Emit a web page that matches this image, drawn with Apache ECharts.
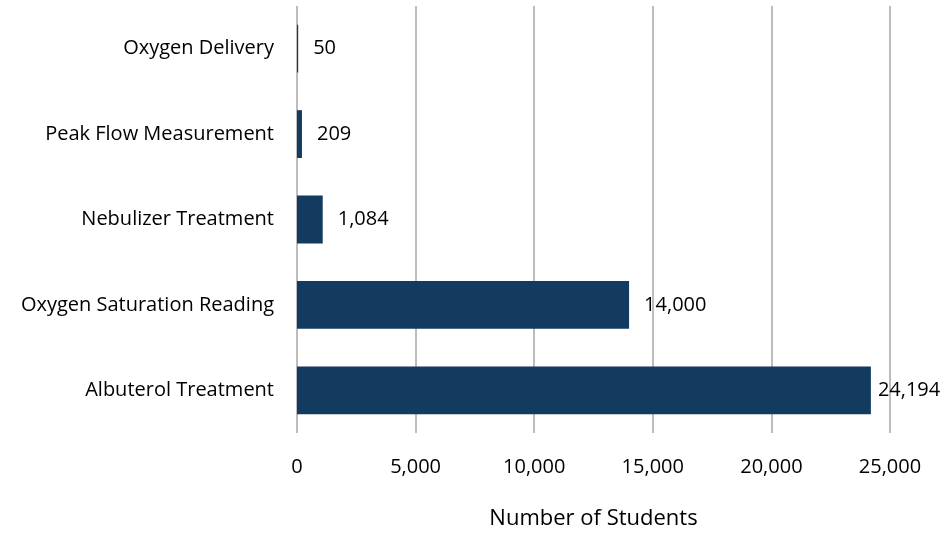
<!DOCTYPE html>
<html><head><meta charset="utf-8">
<script src="https://cdn.jsdelivr.net/npm/echarts@6/dist/echarts.min.js"></script>
<style>html,body{margin:0;padding:0;background:#fff}#c{width:948px;height:533px}</style>
</head><body><div id="c"></div>
<script>
var categories = ["Albuterol Treatment", "Oxygen Saturation Reading", "Nebulizer Treatment", "Peak Flow Measurement", "Oxygen Delivery"];
var values = [24194, 14000, 1084, 209, 50];
var xTicks = [0, 5000, 10000, 15000, 20000, 25000];
var axisTitle = "Number of Students";
var FONT = "Open Sans";
var chart = echarts.init(document.getElementById('c'), null, {renderer: 'canvas'});
function fmt(v){ return v.toLocaleString('en-US'); }
var seriesData = values.map(function(v, i){
  return i === 0 ? {value: v, label: {distance: 7}} : {value: v};
});
chart.setOption({
  animation: false,
  backgroundColor: '#ffffff',
  grid: {left: 297, right: 58, top: 6, bottom: 100, containLabel: false, outerBoundsMode: 'none'},
  xAxis: {
    type: 'value', min: xTicks[0], max: xTicks[xTicks.length-1], interval: 5000,
    name: axisTitle, nameLocation: 'middle', nameGap: 75,
    nameTextStyle: {fontFamily: FONT, fontSize: 22, color: '#000'},
    axisLine: {show: false}, axisTick: {show: false},
    axisLabel: {fontFamily: FONT, fontSize: 20, color: '#000', margin: 24, formatter: function(v){return fmt(v);}},
    splitLine: {show: true, lineStyle: {color: '#BDBDBD', width: 2}}
  },
  yAxis: {
    type: 'category', data: categories,
    axisLine: {show: false}, axisTick: {show: false},
    axisLabel: {fontFamily: FONT, fontSize: 20, color: '#000', margin: 23},
    splitLine: {show: false}
  },
  series: [{
    type: 'bar', data: seriesData, barWidth: '56%',
    itemStyle: {color: '#133B5F'},
    label: {show: true, position: 'right', distance: 15, fontFamily: FONT, fontSize: 20, color: '#000', formatter: function(p){return fmt(p.value);}}
  }]
});
</script></body></html>
